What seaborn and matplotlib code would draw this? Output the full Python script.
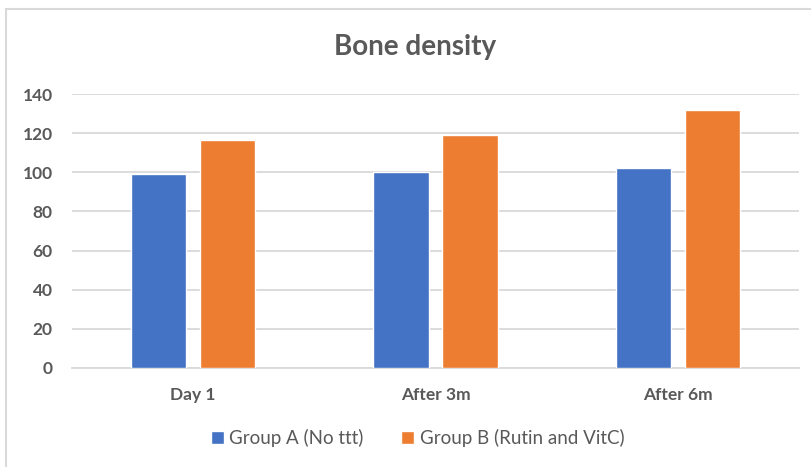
import matplotlib
matplotlib.use("Agg")
import matplotlib.pyplot as plt
import seaborn as sns
import pandas as pd
from matplotlib.lines import Line2D

# values
timepoints = ['Day 1', 'After 3m', 'After 6m']
group_a = [99, 100, 102]
group_b = [116.5, 119, 132]
series = ['Group A (No ttt)', 'Group B (Rutin and VitC)']

df = pd.DataFrame({
    'time': timepoints * 2,
    'density': group_a + group_b,
    'group': [series[0]] * 3 + [series[1]] * 3,
})

sns.set_style('white')
plt.rcParams['font.family'] = ['Lato', 'DejaVu Sans']
txt = '#595959'
grid = '#D9D9D9'

fig = plt.figure(figsize=(8.11, 4.67), dpi=100)
ax = fig.add_axes([0.0888, 0.212, 0.8964, 0.5867])

sns.barplot(data=df, x='time', y='density', hue='group', order=timepoints,
            hue_order=series, palette=['#4472C4', '#ED7D31'],
            width=0.57, gap=0.2, saturation=1, ax=ax, zorder=3)

ax.set_ylim(0, 140)
ax.set_xlim(-0.5, 2.5)
ax.set_yticks(range(0, 141, 20))
ax.yaxis.grid(True, color=grid, linewidth=1.3, zorder=0)
ax.set_axisbelow(True)
for s in ['top', 'right', 'left']:
    ax.spines[s].set_visible(False)
ax.spines['bottom'].set_color(grid)
ax.spines['bottom'].set_linewidth(1.3)
ax.tick_params(axis='both', length=0, labelsize=12.5, colors=txt)
ax.tick_params(axis='y', pad=14)
ax.tick_params(axis='x', pad=14)
for lab in ax.get_xticklabels() + ax.get_yticklabels():
    lab.set_fontweight('bold')
ax.set_xlabel('')
ax.set_ylabel('')

fig.text(0.512, 0.9, 'Bone density', ha='center', va='center',
         fontsize=20, fontweight='bold', color=txt)

ax.legend(loc='center', bbox_to_anchor=(0.515, 0.062), bbox_transform=fig.transFigure,
          ncol=2, frameon=False, prop={'size': 13.5}, labelcolor=txt,
          handlelength=0.7, handleheight=0.7, handletextpad=0.3, columnspacing=2.0)

# outer chart frame (left and top edges visible in the screenshot)
fig.add_artist(Line2D([6 / 811, 6 / 811], [0, 1 - 9 / 467], color=grid, linewidth=1.5))
fig.add_artist(Line2D([6 / 811, 1], [1 - 9 / 467, 1 - 9 / 467], color=grid, linewidth=1.5))

fig.savefig('out.png', dpi=100)
